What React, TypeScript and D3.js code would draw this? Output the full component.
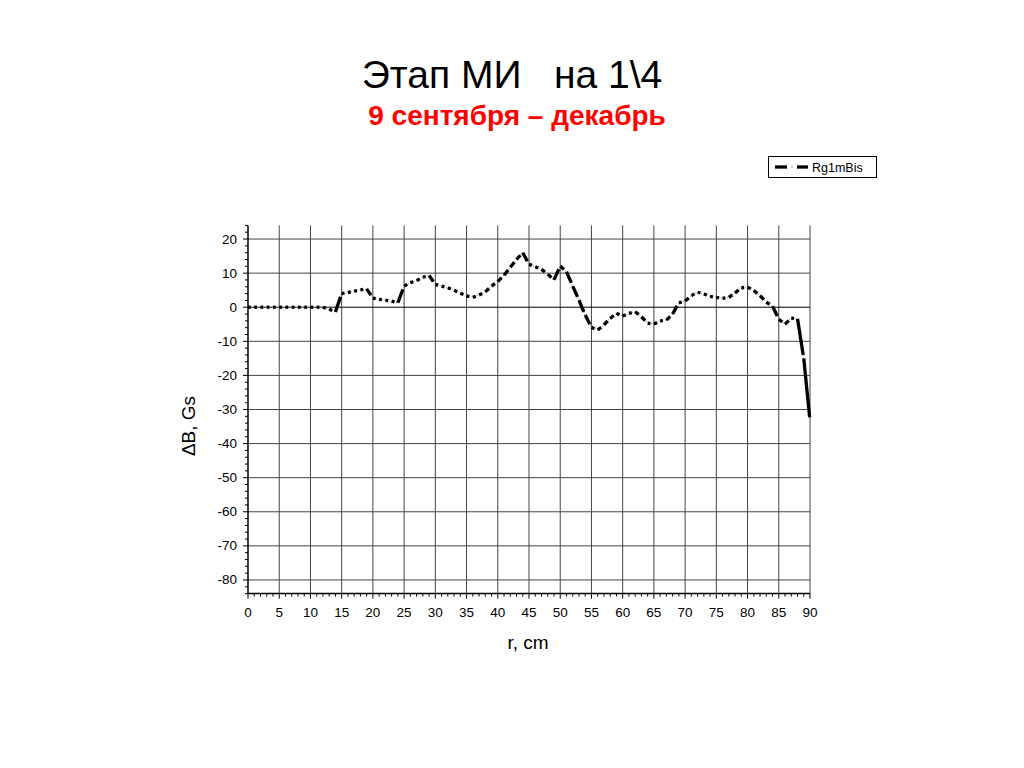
import React from "react";
import * as d3 from "d3";

const xValues: number[] = d3.range(0, 91);
const dB: number[] = [
  0, 0, 0, 0, 0, 0, 0, 0, 0, 0,
  0, 0, 0, -0.6, -1.4, 4.0, 4.3, 4.7, 5.1, 5.4,
  2.7, 2.3, 2.1, 1.8, 1.3, 6.2, 7.2, 7.8, 8.8, 9.3,
  6.7, 6.2, 5.7, 5.0, 4.1, 3.3, 2.9, 3.6, 4.5, 6.2,
  7.5, 9.4, 11.7, 14.0, 16.0, 12.6, 11.9, 11.1, 9.7, 8.0,
  12.1, 10.4, 6.2, 2.1, -2.3, -5.9, -6.7, -5.2, -3.3, -1.8,
  -2.6, -1.8, -1.3, -2.8, -4.7, -4.9, -4.0, -3.8, -2.0, 1.3,
  1.8, 3.4, 4.4, 3.9, 3.2, 2.9, 2.6, 2.9, 4.2, 5.7,
  5.9, 4.9, 3.4, 1.5, 0.3, -3.5, -5.0, -3.2, -3.4, -15.0,
  -33.3,
];
const xTicks: number[] = d3.range(0, 91, 5);
const yTicks: number[] = d3.range(-80, 21, 10);
const seriesName = "Rg1mBis";
const title = "Этап МИ   на 1\\4";
const subtitle = "9 сентября – декабрь";
const xLabel = "r, cm";
const yLabel = "ΔB, Gs";

const FONT = "Liberation Sans, Arial, sans-serif";

export default function App() {
  const left = 248, right = 810, top = 225.4, bottom = 593.6;
  const x = d3.scaleLinear().domain([0, 90]).range([left, right]);
  const y = d3.scaleLinear().domain([-84, 24]).range([bottom, top]);

  const pts = xValues.map((xv, i) => [x(xv), y(dB[i])] as [number, number]);
  const line = d3.line<[number, number]>();

  const segs = pts.slice(0, -1).map((p, i) => {
    const q = pts[i + 1];
    const L = Math.hypot(q[0] - p[0], q[1] - p[1]);
    const d = Math.max(L - 3.5, 1.5);
    return { p, q, L, d };
  });

  const xMinor = d3.range(0, 91, 1);
  const yMinor = d3.range(-84, 25, 2);

  return (
    <svg width={1024} height={768} style={{ position: "absolute", left: 0, top: 0, background: "#fff" }} fontFamily={FONT}>
      <rect width={1024} height={768} fill="#fff" />
      <text x={512} y={88} textAnchor="middle" fontSize={39} fill="#000" style={{ whiteSpace: "pre" }}>{title}</text>
      <text x={517} y={125} textAnchor="middle" fontSize={28} fontWeight="bold" fill="#ff0000">{subtitle}</text>

      {/* grid */}
      {xTicks.filter(t => t > 0).map(t => (
        <line key={"gx" + t} x1={x(t)} x2={x(t)} y1={top} y2={bottom} stroke="#444" strokeWidth={1} />
      ))}
      {yTicks.map(t => (
        <line key={"gy" + t} x1={left} x2={right} y1={y(t)} y2={y(t)} stroke={t === 0 ? "#000" : "#444"} strokeWidth={1} />
      ))}

      {/* axes */}
      <line x1={left} x2={left} y1={top} y2={bottom} stroke="#000" strokeWidth={1.5} />
      <line x1={left} x2={right} y1={bottom} y2={bottom} stroke="#000" strokeWidth={1.5} />
      {xMinor.map(t => (
        <line key={"xm" + t} x1={x(t)} x2={x(t)} y1={bottom} y2={bottom + (t % 5 === 0 ? 5 : 3)} stroke="#000" strokeWidth={1} />
      ))}
      {yMinor.map(t => (
        <line key={"ym" + t} x1={left} x2={left - (t % 10 === 0 ? 5 : 3)} y1={y(t)} y2={y(t)} stroke="#000" strokeWidth={1} />
      ))}
      {xTicks.map(t => (
        <text key={"xt" + t} x={x(t)} y={617} textAnchor="middle" fontSize={13.5}>{t}</text>
      ))}
      {yTicks.map(t => (
        <text key={"yt" + t} x={237} y={y(t) + 4.5} textAnchor="end" fontSize={13.5}>{t}</text>
      ))}
      <text x={528} y={649} textAnchor="middle" fontSize={19}>{xLabel}</text>
      <text transform="translate(195,426) rotate(-90)" textAnchor="middle" fontSize={19}>{yLabel}</text>

      {/* series */}
      <path d={line(pts) || ""} fill="none" stroke="#999" strokeWidth={1.2} strokeDasharray="1 2" />
      {segs.map((s, i) => (
        <line key={"s" + i} x1={s.p[0]} y1={s.p[1]} x2={s.q[0]} y2={s.q[1]} stroke="#000" strokeWidth={3.3}
          strokeDasharray={`${s.d} ${s.L + 10}`} />
      ))}

      {/* legend */}
      <rect x={768.5} y={156.5} width={108} height={21} fill="#fff" stroke="#000" strokeWidth={1} />
      <line x1={775} x2={787} y1={167} y2={167} stroke="#000" strokeWidth={3.3} />
      <line x1={791} x2={793} y1={167} y2={167} stroke="#999" strokeWidth={1.2} />
      <line x1={797} x2={808} y1={167} y2={167} stroke="#000" strokeWidth={3.3} />
      <text x={812} y={171.5} fontSize={12.5}>{seriesName}</text>
    </svg>
  );
}
